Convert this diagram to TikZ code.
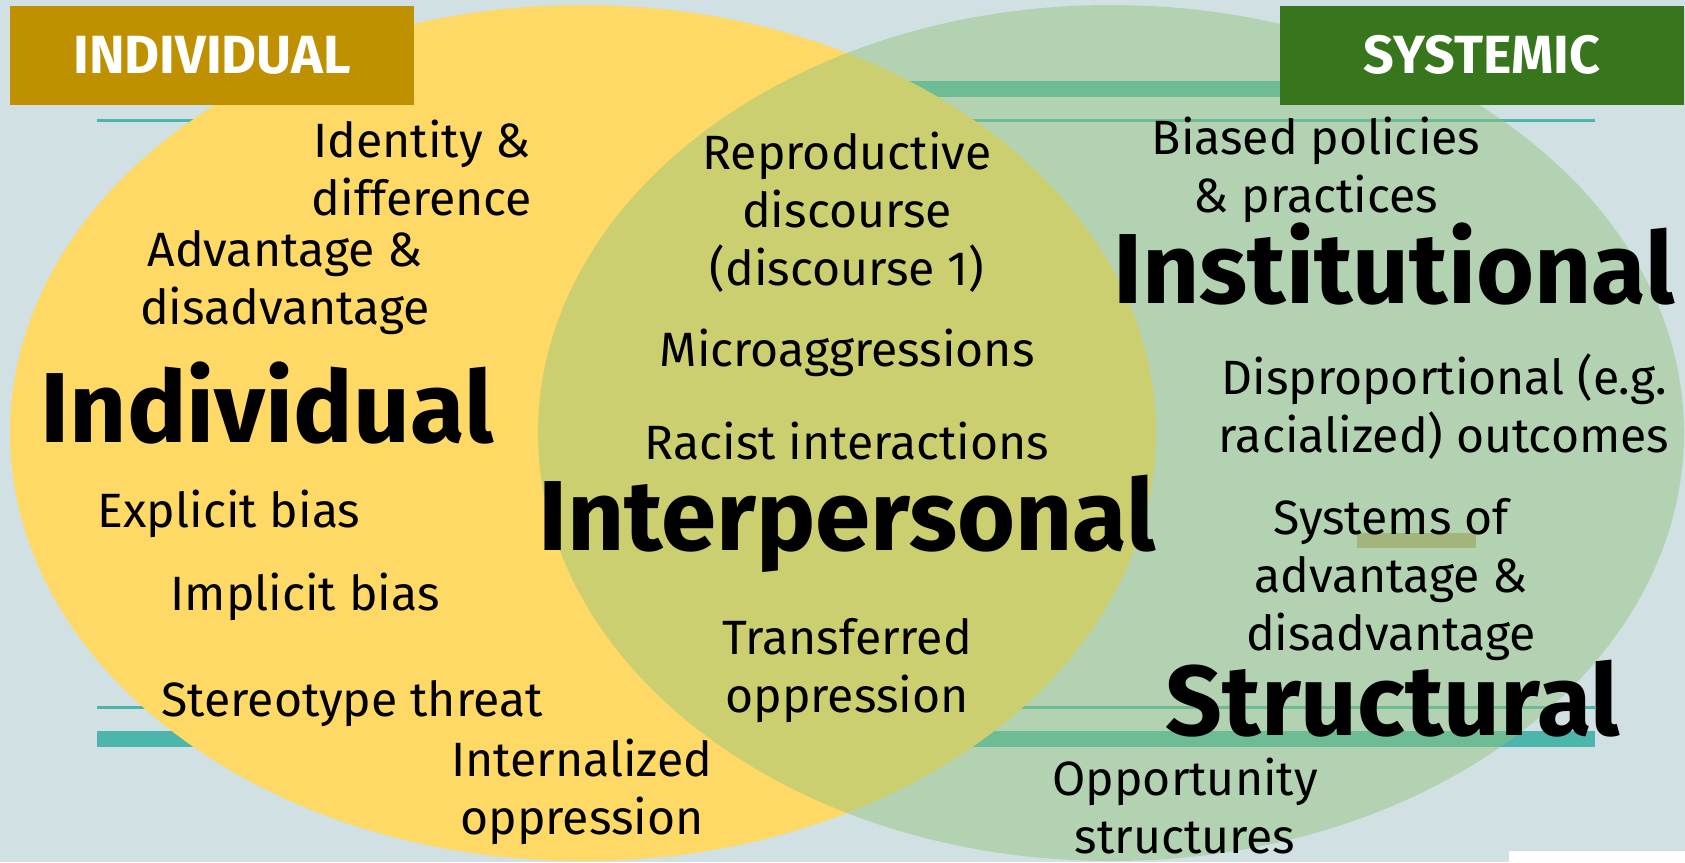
\documentclass[tikz,border=0pt]{standalone}
\usepackage{fontspec}
\setmainfont{Fira Sans}
\usepackage{tikz}
\definecolor{slate}{HTML}{D0E0E3}
\definecolor{gold}{HTML}{FFD966}
\definecolor{sage}{HTML}{93C47D}
\definecolor{ochre}{HTML}{BF9000}
\definecolor{forest}{HTML}{38761D}
\definecolor{rule}{HTML}{4DB6AC}
\definecolor{moss}{HTML}{A3B57D}

\begin{document}
\begin{tikzpicture}[x=0.1mm,y=-0.1mm]
    \tikzset{
      tag/.style={fill=#1,text=white,font=\fontsize{15.3}{18}\selectfont\bfseries,minimum width=40.4mm,minimum height=9.9mm,inner sep=0pt},
      phrase/.style={align=center,inner sep=0pt,font=\fontsize{13.7}{16.5}\selectfont},
      bigword/.style={inner sep=0pt,font=\fontsize{28.3}{34}\selectfont\bfseries},
      thinrule/.style={draw=rule,line width=0.3mm}
    }
    \fill[slate] (0,0) rectangle (1685,862);
    \useasboundingbox (0,0) rectangle (1685,862);
    % rules across the page
    \fill[rule] (97,81) rectangle (1595,97);
    \draw[thinrule] (97,120) -- (1595,120);
    \draw[thinrule] (97,707) -- (1595,707);
    \fill[rule] (97,731) rectangle (1595,747);
    % the two circles
    \fill[gold] (583,433) ellipse [x radius=57.3mm,y radius=42.8mm];
    \fill[sage,fill opacity=0.475] (1111,433) ellipse [x radius=57.3mm,y radius=42.8mm];
    \fill[moss] (1357,533) rectangle (1476,548);
    \fill[white] (1509,851) rectangle (1685,862);
    % headers
    \node[tag=ochre] (indtag) at (212,55) {INDIVIDUAL};
    \node[tag=forest] (systag) at (1482,55) {SYSTEMIC};
    % individual side
    \node[phrase] (identity) at (422,168) {Identity \&\\difference};
    \node[phrase] (advantage) at (285,283) {Advantage \&\\disadvantage};
    \node[bigword] (individual) at (267,403) {Individual};
    \node[phrase] (explicit) at (229,514) {Explicit bias};
    \node[phrase] (implicit) at (305,597) {Implicit bias};
    \node[phrase] (stereo) at (352,704) {Stereotype threat};
    \node[phrase] (internal) at (582,792) {Internalized\\oppression};
    % overlap
    \node[phrase] (repro) at (847,212) {Reproductive\\discourse\\(discourse 1)};
    \node[phrase] (micro) at (847,353) {Microaggressions};
    \node[phrase] (racist) at (847,441) {Racist interactions};
    \node[bigword] (interpersonal) at (847,524) {Interpersonal};
    \node[phrase] (transfer) at (847,671) {Transferred\\oppression};
    % systemic side
    \node[phrase] (biased) at (1316,170) {Biased policies\\\& practices};
    \node[bigword] (institutional) at (1394,264) {Institutional};
    \node[phrase] (dispro) at (1444,407) {Disproportional (e.g.\\racialized) outcomes};
    \node[phrase] (systems) at (1391,580) {Systems of\\advantage \&\\disadvantage};
    \node[bigword] (structural) at (1393,699) {Structural};
    \node[phrase] (opport) at (1185,806) {Opportunity\\structures};
  \end{tikzpicture}
\end{document}
